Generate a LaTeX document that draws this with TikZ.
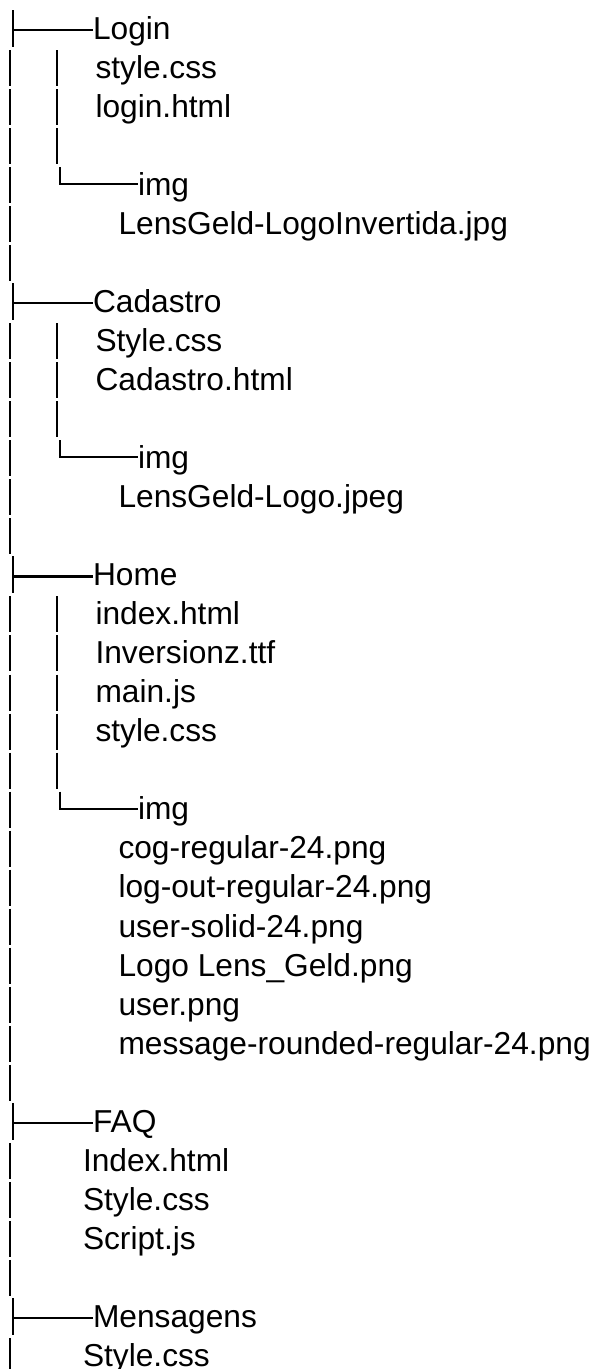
\documentclass[tikz,border=0pt]{standalone}
\usepackage{fontspec}
\setmainfont{Liberation Sans}
\begin{document}
\begin{tikzpicture}[x=1pt,y=-1pt,
  treeline/.style={line width=2.2pt, black},
  lbl/.style={anchor=base west, inner sep=0pt, outer sep=0pt, font=\fontsize{31.7}{38}\selectfont}]
\useasboundingbox (0,0) rectangle (600,1369);
\clip (0,0) rectangle (600,1369);
% row i: centre c = 28 + 39.03 i ; baseline = c + 11.3
\newcommand\rowbase[1]{\fpeval{39.3+39.03*#1}}
% ---- labels ----
\node[lbl] (login)    at (93,  \rowbase{0})  {Login};
\node[lbl] (lcss)     at (95.5,\rowbase{1})  {style.css};
\node[lbl] (lhtml)    at (95.5,\rowbase{2})  {login.html};
\node[lbl] (limg)     at (138, \rowbase{4})  {img};
\node[lbl] (llogo)    at (118.5,\rowbase{5}) {LensGeld-LogoInvertida.jpg};
\node[lbl] (cad)      at (93,  \rowbase{7})  {Cadastro};
\node[lbl] (ccss)     at (95.5,\rowbase{8})  {Style.css};
\node[lbl] (chtml)    at (95.5,\rowbase{9})  {Cadastro.html};
\node[lbl] (cimg)     at (138, \rowbase{11}) {img};
\node[lbl] (clogo)    at (118.5,\rowbase{12}) {LensGeld-Logo.jpeg};
\node[lbl] (home)     at (93,  \rowbase{14}) {Home};
\node[lbl] (hindex)   at (95.5,\rowbase{15}) {index.html};
\node[lbl] (hfont)    at (95.5,\rowbase{16}) {Inversionz.ttf};
\node[lbl] (hjs)      at (95.5,\rowbase{17}) {main.js};
\node[lbl] (hcss)     at (95.5,\rowbase{18}) {style.css};
\node[lbl] (himg)     at (138, \rowbase{20}) {img};
\node[lbl] (hcog)     at (118.5,\rowbase{21}) {cog-regular-24.png};
\node[lbl] (hlogout)  at (118.5,\rowbase{22}) {log-out-regular-24.png};
\node[lbl] (huser)    at (118.5,\rowbase{23}) {user-solid-24.png};
\node[lbl] (hlogo)    at (118.5,\rowbase{24}) {Logo Lens\_Geld.png};
\node[lbl] (huserpng) at (118.5,\rowbase{25}) {user.png};
\node[lbl] (hmsg)     at (118.5,\rowbase{26}) {message-rounded-regular-24.png};
\node[lbl] (faq)      at (93,  \rowbase{28}) {FAQ};
\node[lbl] (findex)   at (83,  \rowbase{29}) {Index.html};
\node[lbl] (fcss)     at (83,  \rowbase{30}) {Style.css};
\node[lbl] (fjs)      at (83,  \rowbase{31}) {Script.js};
\node[lbl] (msg)      at (93,  \rowbase{33}) {Mensagens};
\node[lbl] (mcss)     at (83,  \rowbase{34}) {Style.css};
% ---- main trunk: plain bars on non-branch rows ----
\foreach \i in {1,...,6,8,9,...,13,15,16,...,27,29,30,31,32,34}{
  \pgfmathsetmacro\c{28+39.03*\i}
  \draw[treeline] (10,\c-17) -- (10,\c+19);
}
% ---- branch tees on the trunk ----
\foreach \i/\n in {0/login,7/cad,14/home,28/faq,33/msg}{
  \pgfmathsetmacro\c{28+39.03*\i}
  \draw[treeline] (13.3,\c-18) -- (13.3,\c+19);
  \draw[treeline] (13.3,\c+2) -- (13.3,\c+2 -| \n.base west);
}
% ---- inner bars ----
\foreach \i in {1,2,3,8,9,10,15,16,17,18,19}{
  \pgfmathsetmacro\c{28+39.03*\i}
  \draw[treeline] (56.7,\c-17) -- (56.7,\c+19);
}
% ---- inner corners to img folders ----
\foreach \i/\n in {4/limg,11/cimg,20/himg}{
  \pgfmathsetmacro\c{28+39.03*\i}
  \draw[treeline] (60,\c-17) -- (60,\c) -- (60,\c -| \n.base west);
}
\end{tikzpicture}
\end{document}
